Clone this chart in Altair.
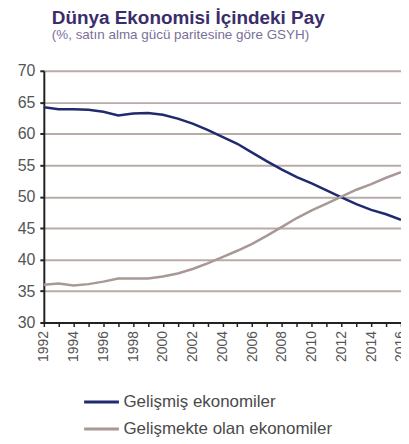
import altair as alt
import pandas as pd

years = list(range(1992, 2017))
developed = [64.2, 63.9, 63.9, 63.8, 63.5, 62.9, 63.2, 63.3, 63.0, 62.4, 61.6, 60.6,
             59.5, 58.4, 57.0, 55.6, 54.3, 53.1, 52.1, 51.0, 49.9, 48.8, 47.9, 47.2, 46.3]
developing = [36.0, 36.2, 35.9, 36.1, 36.5, 37.0, 37.0, 37.0, 37.3, 37.8, 38.5, 39.4,
              40.4, 41.4, 42.5, 43.8, 45.2, 46.6, 47.8, 48.9, 50.0, 51.1, 52.0, 53.0, 53.9]
series_names = ["Gelişmiş ekonomiler", "Gelişmekte olan ekonomiler"]
series_colors = ["#1f2b6e", "#a89896"]
y_ticks = [30, 35, 40, 45, 50, 55, 60, 65, 70]

rows = []
for name, vals in zip(series_names, [developed, developing]):
    for yr, v in zip(years, vals):
        rows.append({"Yıl": yr, "Pay": v, "Seri": name})
df = pd.DataFrame(rows)

chart = alt.Chart(df).mark_line(strokeWidth=2.5).encode(
    x=alt.X("Yıl:Q",
            scale=alt.Scale(domain=[1992, 2016], nice=False, zero=False),
            axis=alt.Axis(values=years, format="d",
                          labelExpr="datum.value % 2 == 0 ? datum.label : ''",
                          labelAngle=270, labelAlign="right", labelBaseline="middle",
                          labelFontSize=14, labelColor="#555555", labelPadding=4,
                          labelFont="Liberation Sans",
                          domainColor="#222222", domainWidth=2,
                          tickColor="#222222", tickWidth=1.5, tickSize=4,
                          grid=False, title=None)),
    y=alt.Y("Pay:Q",
            scale=alt.Scale(domain=[30, 70], nice=False, zero=False),
            axis=alt.Axis(values=y_ticks, labelFontSize=16, labelColor="#555555",
                          labelFont="Liberation Sans", labelPadding=5,
                          domainColor="#222222", domainWidth=2,
                          tickColor="#222222", tickWidth=2, tickSize=4,
                          grid=True, gridColor="#b8aca9", gridWidth=2,
                          title=None)),
    color=alt.Color("Seri:N",
                    scale=alt.Scale(domain=series_names, range=series_colors),
                    sort=series_names,
                    legend=alt.Legend(title=None, orient="none", legendX=39, legendY=314,
                                      symbolType="stroke", symbolSize=1225,
                                      symbolStrokeWidth=3, labelFontSize=17,
                                      labelColor="#4a4a4a", labelFont="Liberation Sans",
                                      labelOffset=3, labelLimit=320, rowPadding=-10)),
).properties(
    width=359, height=253,
    autosize=alt.AutoSizeParams(type="none"),
    padding={"left": 36, "top": 62, "right": 0, "bottom": 120},
    title=alt.TitleParams(
        text="Dünya Ekonomisi İçindeki Pay",
        subtitle="(%, satın alma gücü paritesine göre GSYH)",
        anchor="start", frame="group", dx=8, offset=21,
        font="Liberation Sans", fontSize=19, fontWeight="bold", color="#3b2d6b",
        subtitleFont="Liberation Sans", subtitleFontSize=13.5, subtitleColor="#7a6f99",
        subtitlePadding=1),
).configure_view(stroke=None)

chart.save("out.html", embed_options={"renderer": "svg", "actions": False})
